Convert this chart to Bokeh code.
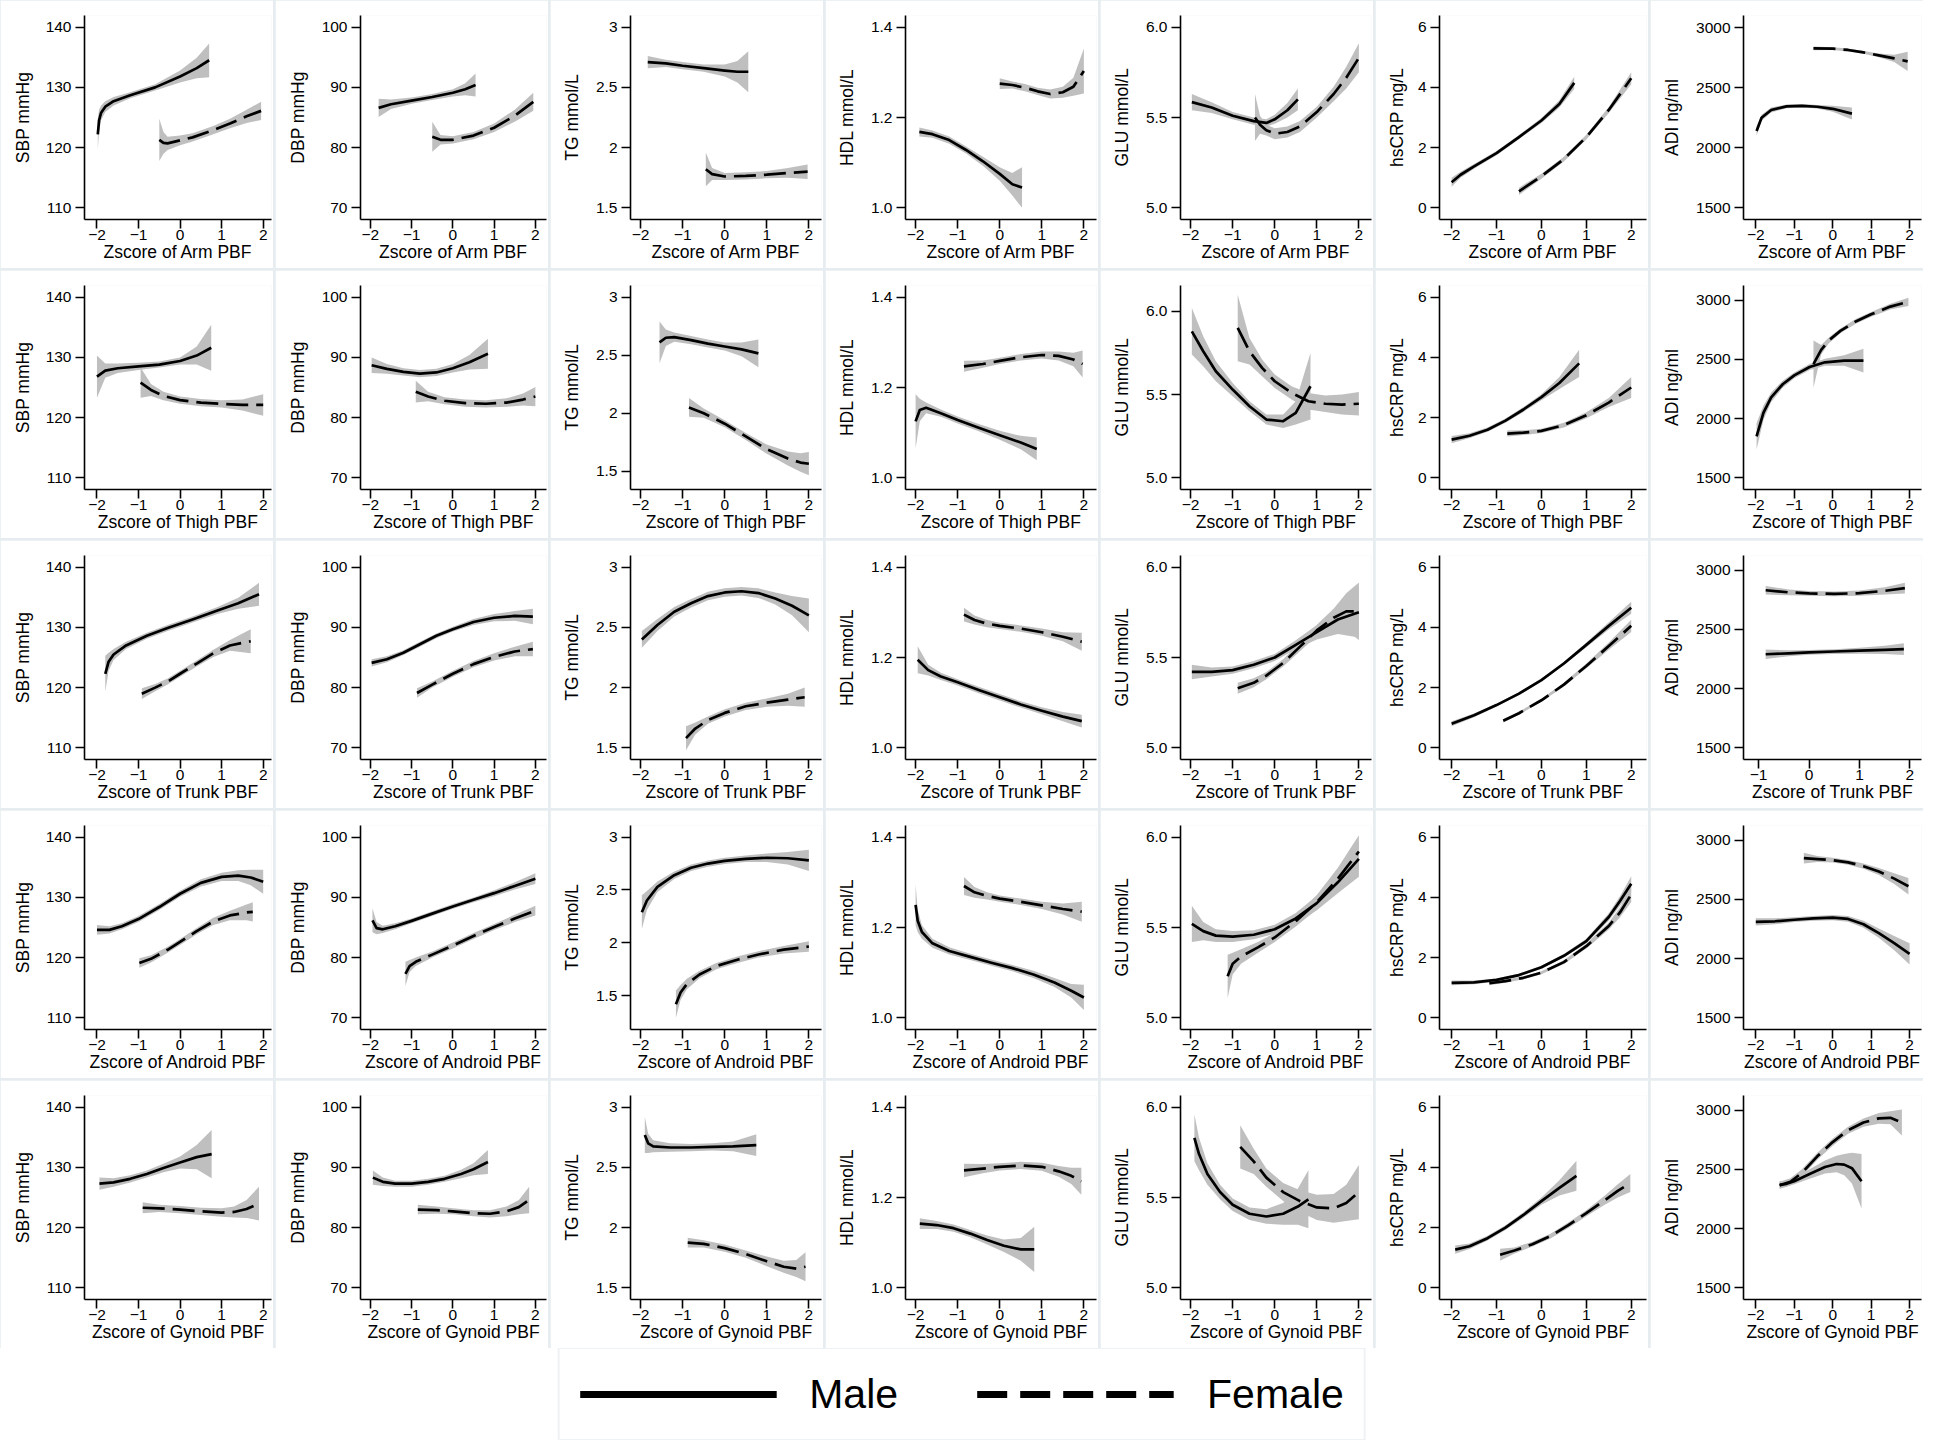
from bokeh.plotting import figure
from bokeh.models import Range1d, FixedTicker, CustomJSTickFormatter, Legend, LegendItem
from bokeh.layouts import gridplot, column
from bokeh.embed import file_html
from bokeh.resources import INLINE

FONT = "Liberation Sans"
BAND = "#bfbfbf"
BORDER = "#e6ecf0"

REGIONS = ["Arm", "Thigh", "Trunk", "Android", "Gynoid"]
MEASURES = ["SBP", "DBP", "TG", "HDL", "GLU", "CRP", "ADI"]
Y_LABELS = ["SBP mmHg", "DBP mmHg", "TG mmol/L", "HDL mmol/L", "GLU mmol/L", "hsCRP mg/L", "ADI ng/ml"]
Y_TICKS = [[110, 120, 130, 140], [70, 80, 90, 100], [1.5, 2, 2.5, 3], [1.0, 1.2, 1.4],
           [5.0, 5.5, 6.0], [0, 2, 4, 6], [1500, 2000, 2500, 3000]]
Y_DECIMALS = [0, 0, -1, 1, 1, 0, 0]
X_TICKS = [-2, -1, 0, 1, 2]
X_TICKS_TRUNK_ADI = [-1, 0, 1, 2]
LEGEND_LABELS = ["Male", "Female"]

# ---- curves: (x, fitted value, half width of 95% CI) ----
# Arm
ARM_SBP_M = ([-1.98, -1.95, -1.9, -1.8, -1.6, -1.2, -0.6, 0, 0.4, 0.7],
             [122.2, 124.5, 125.8, 126.8, 127.7, 128.7, 130.0, 131.8, 133.2, 134.5],
             [2.6, 1.8, 1.2, 0.9, 0.7, 0.5, 0.5, 1.0, 1.7, 2.8])
ARM_SBP_F = ([-0.5, -0.4, -0.3, 0, 0.3, 0.8, 1.2, 1.6, 1.95],
             [121.3, 120.8, 120.7, 121.2, 121.7, 122.9, 124.0, 125.2, 126.1],
             [3.5, 1.8, 1.1, 0.8, 0.7, 0.7, 0.8, 1.1, 1.5])
ARM_DBP_M = ([-1.8, -1.5, -1.0, -0.5, 0, 0.3, 0.55],
             [86.6, 87.2, 87.8, 88.4, 89.1, 89.7, 90.4],
             [1.5, 0.8, 0.5, 0.5, 0.6, 1.0, 1.9])
ARM_DBP_F = ([-0.5, -0.3, 0, 0.5, 1.0, 1.5, 1.95],
             [81.8, 81.3, 81.3, 82.0, 83.3, 85.3, 87.6],
             [2.5, 0.8, 0.6, 0.6, 0.7, 1.0, 1.5])
ARM_TG_M = ([-1.83, -1.4, -1.0, -0.5, 0, 0.3, 0.56],
            [2.71, 2.70, 2.68, 2.66, 2.64, 2.63, 2.63],
            [0.05, 0.03, 0.03, 0.03, 0.05, 0.09, 0.17])
ARM_TG_F = ([-0.45, -0.3, 0, 0.5, 1.0, 1.5, 1.97],
            [1.82, 1.78, 1.76, 1.765, 1.775, 1.79, 1.80],
            [0.14, 0.05, 0.03, 0.03, 0.03, 0.04, 0.06])
ARM_HDL_M = ([-1.91, -1.6, -1.2, -0.8, -0.4, 0, 0.3, 0.53],
             [1.168, 1.163, 1.150, 1.128, 1.103, 1.075, 1.052, 1.045],
             [0.01, 0.008, 0.008, 0.008, 0.01, 0.015, 0.025, 0.045])
ARM_HDL_F = ([0.0, 0.3, 0.6, 0.9, 1.2, 1.5, 1.75, 2.0],
             [1.275, 1.272, 1.266, 1.258, 1.252, 1.256, 1.268, 1.303],
             [0.012, 0.008, 0.008, 0.008, 0.01, 0.012, 0.02, 0.05])
ARM_GLU_M = ([-1.97, -1.5, -1.0, -0.5, -0.2, 0, 0.3, 0.55],
             [5.585, 5.555, 5.51, 5.48, 5.47, 5.49, 5.54, 5.60],
             [0.045, 0.03, 0.02, 0.02, 0.02, 0.025, 0.04, 0.06])
ARM_GLU_F = ([-0.47, -0.35, -0.2, 0, 0.3, 0.6, 1.0, 1.4, 1.7, 2.0],
             [5.50, 5.46, 5.43, 5.41, 5.42, 5.45, 5.53, 5.63, 5.72, 5.83],
             [0.13, 0.05, 0.03, 0.03, 0.03, 0.03, 0.03, 0.04, 0.06, 0.08])
ARM_CRP_M = ([-2.0, -1.8, -1.5, -1.0, -0.5, 0, 0.4, 0.73],
             [0.85, 1.1, 1.38, 1.82, 2.35, 2.9, 3.45, 4.15],
             [0.15, 0.1, 0.08, 0.07, 0.07, 0.08, 0.12, 0.2])
ARM_CRP_F = ([-0.5, 0, 0.5, 1.0, 1.5, 2.0],
             [0.55, 1.05, 1.62, 2.35, 3.25, 4.3],
             [0.12, 0.08, 0.08, 0.08, 0.1, 0.2])
ARM_ADI_M = ([-1.98, -1.85, -1.6, -1.2, -0.8, -0.4, 0, 0.5],
             [2140, 2250, 2315, 2345, 2350, 2342, 2325, 2285],
             [40, 25, 20, 15, 15, 15, 25, 50])
ARM_ADI_F = ([-0.5, 0, 0.4, 0.8, 1.2, 1.6, 1.95],
             [2828, 2826, 2815, 2795, 2770, 2745, 2720],
             [15, 12, 12, 12, 15, 30, 80])

# Thigh
THIGH_SBP_M = ([-2.0, -1.8, -1.5, -1.0, -0.5, 0, 0.4, 0.75],
               [126.8, 127.8, 128.2, 128.5, 128.8, 129.4, 130.3, 131.6],
               [3.5, 1.2, 0.8, 0.6, 0.5, 0.6, 1.5, 3.8])
THIGH_SBP_F = ([-0.95, -0.7, -0.4, 0, 0.5, 1.0, 1.5, 2.0],
               [125.8, 124.6, 123.6, 122.9, 122.5, 122.3, 122.1, 122.1],
               [2.5, 1.0, 0.7, 0.6, 0.6, 0.6, 0.9, 1.8])
THIGH_DBP_M = ([-1.97, -1.6, -1.2, -0.8, -0.4, 0, 0.4, 0.85],
               [88.7, 88.1, 87.6, 87.3, 87.5, 88.2, 89.2, 90.6],
               [1.3, 0.8, 0.6, 0.6, 0.6, 0.7, 1.2, 2.5])
THIGH_DBP_F = ([-0.9, -0.6, -0.2, 0.3, 0.8, 1.3, 1.7, 2.0],
               [84.3, 83.5, 82.8, 82.4, 82.3, 82.5, 83.0, 83.5],
               [1.8, 0.8, 0.6, 0.6, 0.6, 0.7, 1.0, 1.6])
THIGH_TG_M = ([-1.55, -1.4, -1.2, -0.8, -0.4, 0, 0.4, 0.8],
              [2.61, 2.65, 2.655, 2.63, 2.60, 2.575, 2.55, 2.515],
              [0.18, 0.07, 0.04, 0.035, 0.035, 0.035, 0.06, 0.12])
THIGH_TG_F = ([-0.85, -0.5, 0, 0.5, 1.0, 1.5, 1.8, 2.0],
              [2.05, 2.00, 1.91, 1.80, 1.69, 1.61, 1.575, 1.565],
              [0.08, 0.04, 0.03, 0.03, 0.04, 0.06, 0.08, 0.1])
THIGH_HDL_M = ([-2.0, -1.9, -1.75, -1.4, -1.0, -0.5, 0, 0.5, 0.88],
               [1.125, 1.150, 1.155, 1.143, 1.128, 1.111, 1.094, 1.078, 1.064],
               [0.06, 0.025, 0.012, 0.008, 0.008, 0.008, 0.01, 0.015, 0.025])
THIGH_HDL_F = ([-0.85, -0.4, 0, 0.5, 1.0, 1.4, 1.75, 1.97],
               [1.247, 1.252, 1.259, 1.267, 1.272, 1.270, 1.262, 1.252],
               [0.012, 0.008, 0.007, 0.007, 0.008, 0.01, 0.015, 0.03])
THIGH_GLU_M = ([-1.97, -1.7, -1.4, -1.0, -0.6, -0.2, 0.2, 0.5, 0.85],
               [5.88, 5.76, 5.64, 5.53, 5.43, 5.35, 5.34, 5.39, 5.55],
               [0.14, 0.09, 0.06, 0.04, 0.03, 0.03, 0.04, 0.07, 0.2])
THIGH_GLU_F = ([-0.88, -0.6, -0.3, 0, 0.4, 0.8, 1.2, 1.6, 2.0],
               [5.90, 5.76, 5.66, 5.58, 5.51, 5.46, 5.445, 5.44, 5.445],
               [0.2, 0.08, 0.05, 0.04, 0.04, 0.05, 0.05, 0.06, 0.07])
THIGH_CRP_M = ([-2.0, -1.6, -1.2, -0.8, -0.4, 0, 0.4, 0.84],
               [1.27, 1.40, 1.60, 1.90, 2.27, 2.68, 3.15, 3.80],
               [0.12, 0.08, 0.07, 0.07, 0.08, 0.1, 0.2, 0.45])
THIGH_CRP_F = ([-0.76, -0.4, 0, 0.5, 1.0, 1.5, 2.0],
               [1.47, 1.50, 1.56, 1.75, 2.08, 2.50, 3.0],
               [0.1, 0.08, 0.07, 0.08, 0.1, 0.15, 0.35])
THIGH_ADI_M = ([-1.98, -1.8, -1.6, -1.3, -1.0, -0.6, -0.2, 0.3, 0.8],
               [1850, 2050, 2180, 2290, 2365, 2435, 2475, 2490, 2490],
               [110, 60, 40, 30, 25, 25, 30, 45, 100])
THIGH_ADI_F = ([-0.5, -0.3, -0.1, 0.2, 0.6, 1.0, 1.5, 1.97],
               [2460, 2580, 2660, 2740, 2820, 2880, 2945, 2985],
               [200, 40, 25, 20, 20, 20, 25, 35])

# Trunk
TRUNK_SBP_M = ([-1.8, -1.72, -1.6, -1.3, -0.8, -0.3, 0.3, 0.9, 1.4, 1.9],
               [122.3, 124.3, 125.5, 127.0, 128.6, 129.9, 131.3, 132.8, 134.0, 135.5],
               [3.0, 1.5, 0.9, 0.6, 0.5, 0.5, 0.5, 0.6, 0.9, 1.9])
TRUNK_SBP_F = ([-0.92, -0.6, -0.3, 0, 0.4, 0.8, 1.2, 1.7],
               [119.0, 120.0, 121.0, 122.3, 124.0, 125.7, 127.0, 127.7],
               [0.9, 0.6, 0.5, 0.5, 0.5, 0.6, 0.9, 2.0])
TRUNK_DBP_M = ([-1.97, -1.6, -1.2, -0.8, -0.4, 0, 0.5, 1.0, 1.5, 1.94],
               [84.1, 84.7, 85.8, 87.2, 88.6, 89.7, 90.9, 91.6, 91.9, 91.8],
               [0.6, 0.5, 0.4, 0.4, 0.4, 0.4, 0.5, 0.6, 0.8, 1.3])
TRUNK_DBP_F = ([-0.87, -0.5, 0, 0.5, 1.0, 1.5, 1.94],
               [79.1, 80.5, 82.3, 83.9, 85.1, 86.0, 86.4],
               [0.8, 0.5, 0.5, 0.5, 0.6, 0.8, 1.2])
TRUNK_TG_M = ([-1.97, -1.6, -1.2, -0.8, -0.4, 0, 0.4, 0.8, 1.2, 1.6, 2.0],
              [2.40, 2.52, 2.63, 2.70, 2.76, 2.79, 2.80, 2.785, 2.74, 2.68, 2.60],
              [0.07, 0.05, 0.04, 0.035, 0.035, 0.035, 0.035, 0.04, 0.05, 0.08, 0.14])
TRUNK_TG_F = ([-0.92, -0.7, -0.4, 0, 0.5, 1.0, 1.5, 1.9],
              [1.58, 1.66, 1.73, 1.79, 1.845, 1.875, 1.90, 1.92],
              [0.1, 0.05, 0.03, 0.03, 0.03, 0.035, 0.05, 0.08])
TRUNK_HDL_M = ([-1.95, -1.7, -1.4, -1.0, -0.5, 0, 0.5, 1.0, 1.5, 1.95],
               [1.195, 1.172, 1.158, 1.145, 1.128, 1.112, 1.096, 1.082, 1.069, 1.059],
               [0.03, 0.012, 0.008, 0.007, 0.007, 0.007, 0.007, 0.008, 0.01, 0.014])
TRUNK_HDL_F = ([-0.85, -0.6, -0.3, 0, 0.5, 1.0, 1.5, 1.95],
               [1.295, 1.283, 1.275, 1.270, 1.264, 1.256, 1.246, 1.235],
               [0.015, 0.01, 0.008, 0.007, 0.007, 0.008, 0.01, 0.02])
TRUNK_GLU_M = ([-1.97, -1.5, -1.0, -0.5, 0, 0.5, 1.0, 1.5, 2.0],
               [5.42, 5.42, 5.43, 5.46, 5.50, 5.57, 5.64, 5.71, 5.75],
               [0.04, 0.025, 0.02, 0.02, 0.02, 0.025, 0.04, 0.08, 0.14])
TRUNK_GLU_F = ([-0.88, -0.5, -0.2, 0.2, 0.6, 1.0, 1.4, 1.7, 2.0],
               [5.33, 5.36, 5.40, 5.47, 5.56, 5.65, 5.72, 5.755, 5.755],
               [0.03, 0.025, 0.02, 0.02, 0.025, 0.03, 0.05, 0.1, 0.16])
TRUNK_CRP_M = ([-2.0, -1.5, -1.0, -0.5, 0, 0.5, 1.0, 1.5, 2.0],
               [0.80, 1.08, 1.42, 1.80, 2.25, 2.80, 3.42, 4.05, 4.65],
               [0.08, 0.06, 0.05, 0.05, 0.05, 0.06, 0.08, 0.12, 0.2])
TRUNK_CRP_F = ([-0.85, -0.5, 0, 0.5, 1.0, 1.5, 2.0],
               [0.90, 1.15, 1.58, 2.10, 2.72, 3.38, 4.05],
               [0.06, 0.05, 0.05, 0.06, 0.08, 0.12, 0.2])
TRUNK_ADI_M = ([-0.86, -0.4, 0, 0.5, 1.0, 1.5, 1.88],
               [2290, 2298, 2305, 2313, 2320, 2327, 2333],
               [40, 25, 20, 20, 25, 35, 50])
TRUNK_ADI_F = ([-0.86, -0.4, 0, 0.5, 1.0, 1.5, 1.9],
               [2830, 2812, 2803, 2800, 2805, 2825, 2848],
               [35, 25, 20, 20, 22, 30, 45])

# Android
ANDROID_SBP_M = ([-2.0, -1.7, -1.4, -1.0, -0.5, 0, 0.5, 1.0, 1.4, 1.7, 2.0],
                 [124.6, 124.6, 125.2, 126.4, 128.4, 130.6, 132.4, 133.4, 133.6, 133.3, 132.6],
                 [0.8, 0.6, 0.5, 0.5, 0.5, 0.5, 0.6, 0.7, 0.9, 1.3, 2.0])
ANDROID_SBP_F = ([-0.98, -0.7, -0.3, 0, 0.4, 0.8, 1.2, 1.6, 1.75],
                 [119.1, 119.8, 121.3, 122.6, 124.4, 126.0, 127.0, 127.5, 127.6],
                 [0.8, 0.6, 0.5, 0.5, 0.5, 0.6, 0.8, 1.3, 1.6])
ANDROID_DBP_M = ([-1.95, -1.85, -1.7, -1.4, -1.0, -0.5, 0, 0.5, 1.0, 1.5, 2.0],
                 [86.2, 84.9, 84.7, 85.2, 86.1, 87.3, 88.5, 89.6, 90.7, 91.9, 93.1],
                 [2.0, 1.0, 0.6, 0.5, 0.4, 0.4, 0.4, 0.4, 0.5, 0.6, 0.9])
ANDROID_DBP_F = ([-1.15, -1.05, -0.9, -0.5, 0, 0.5, 1.0, 1.5, 2.0],
                 [77.3, 78.6, 79.3, 80.5, 82.0, 83.6, 85.1, 86.5, 87.8],
                 [2.0, 1.0, 0.7, 0.5, 0.5, 0.5, 0.5, 0.6, 0.8])
ANDROID_TG_M = ([-1.97, -1.85, -1.6, -1.2, -0.8, -0.4, 0, 0.5, 1.0, 1.5, 2.0],
                [2.29, 2.40, 2.53, 2.64, 2.71, 2.75, 2.775, 2.795, 2.805, 2.80, 2.78],
                [0.16, 0.09, 0.05, 0.035, 0.03, 0.03, 0.03, 0.03, 0.04, 0.06, 0.1])
ANDROID_TG_F = ([-1.16, -1.05, -0.9, -0.6, -0.2, 0.3, 0.8, 1.4, 2.0],
                [1.42, 1.53, 1.61, 1.70, 1.78, 1.84, 1.89, 1.935, 1.965],
                [0.13, 0.07, 0.05, 0.035, 0.03, 0.03, 0.03, 0.035, 0.05])
ANDROID_HDL_M = ([-2.0, -1.95, -1.85, -1.6, -1.2, -0.7, -0.2, 0.3, 0.8, 1.3, 1.7, 2.0],
                 [1.25, 1.215, 1.19, 1.165, 1.148, 1.135, 1.122, 1.110, 1.096, 1.078, 1.060, 1.045],
                 [0.045, 0.025, 0.015, 0.01, 0.008, 0.007, 0.007, 0.007, 0.008, 0.01, 0.015, 0.028])
ANDROID_HDL_F = ([-0.85, -0.6, -0.3, 0, 0.5, 1.0, 1.5, 1.95],
                 [1.292, 1.278, 1.270, 1.264, 1.257, 1.249, 1.241, 1.235],
                 [0.02, 0.012, 0.008, 0.007, 0.007, 0.008, 0.012, 0.022])
ANDROID_GLU_M = ([-1.97, -1.7, -1.4, -1.0, -0.5, 0, 0.5, 1.0, 1.5, 2.0],
                 [5.52, 5.48, 5.455, 5.45, 5.46, 5.49, 5.55, 5.635, 5.75, 5.88],
                 [0.1, 0.05, 0.035, 0.03, 0.025, 0.025, 0.03, 0.04, 0.06, 0.1])
ANDROID_GLU_F = ([-1.12, -1.0, -0.8, -0.4, 0, 0.5, 1.0, 1.5, 2.0],
                 [5.23, 5.30, 5.34, 5.39, 5.445, 5.535, 5.64, 5.77, 5.92],
                 [0.12, 0.06, 0.04, 0.03, 0.025, 0.03, 0.04, 0.06, 0.09])
ANDROID_CRP_M = ([-2.0, -1.5, -1.0, -0.5, 0, 0.5, 1.0, 1.5, 1.75, 2.0],
                 [1.16, 1.18, 1.26, 1.42, 1.68, 2.06, 2.55, 3.35, 3.88, 4.45],
                 [0.08, 0.06, 0.05, 0.05, 0.05, 0.06, 0.08, 0.12, 0.16, 0.25])
ANDROID_CRP_F = ([-1.16, -0.8, -0.4, 0, 0.5, 1.0, 1.5, 1.75, 2.0],
                 [1.15, 1.22, 1.33, 1.50, 1.85, 2.38, 3.05, 3.50, 4.10],
                 [0.07, 0.05, 0.05, 0.05, 0.06, 0.08, 0.12, 0.16, 0.25])
ANDROID_ADI_M = ([-2.0, -1.5, -1.0, -0.5, 0, 0.4, 0.8, 1.2, 1.6, 2.0],
                 [2310, 2315, 2328, 2340, 2345, 2335, 2290, 2215, 2130, 2040],
                 [30, 25, 20, 20, 22, 25, 30, 40, 60, 90])
ANDROID_ADI_F = ([-0.75, -0.4, 0, 0.4, 0.8, 1.2, 1.6, 1.97],
                 [2848, 2840, 2830, 2812, 2780, 2735, 2675, 2610],
                 [45, 25, 20, 20, 22, 30, 45, 70])

# Gynoid
GYNOID_SBP_M = ([-1.94, -1.6, -1.2, -0.8, -0.4, 0, 0.4, 0.76],
                [127.3, 127.5, 128.1, 128.9, 129.9, 130.8, 131.7, 132.2],
                [1.0, 0.7, 0.6, 0.6, 0.7, 1.0, 2.0, 4.0])
GYNOID_SBP_F = ([-0.9, -0.5, 0, 0.5, 1.0, 1.3, 1.6, 1.9],
                [123.3, 123.2, 123.0, 122.7, 122.5, 122.6, 123.1, 124.0],
                [0.9, 0.6, 0.6, 0.6, 0.7, 0.9, 1.5, 2.8])
GYNOID_DBP_M = ([-1.94, -1.7, -1.4, -1.0, -0.6, -0.2, 0.2, 0.5, 0.85],
                [88.3, 87.6, 87.3, 87.3, 87.6, 88.1, 88.9, 89.7, 90.9],
                [1.2, 0.7, 0.5, 0.5, 0.5, 0.5, 0.7, 1.0, 2.0])
GYNOID_DBP_F = ([-0.85, -0.4, 0, 0.5, 0.9, 1.3, 1.6, 1.85],
                [83.0, 82.9, 82.7, 82.4, 82.3, 82.7, 83.4, 84.6],
                [0.8, 0.6, 0.5, 0.5, 0.6, 0.8, 1.2, 2.2])
GYNOID_TG_M = ([-1.9, -1.82, -1.7, -1.3, -0.8, -0.3, 0.2, 0.75],
               [2.77, 2.70, 2.675, 2.665, 2.665, 2.67, 2.675, 2.685],
               [0.15, 0.08, 0.05, 0.035, 0.03, 0.03, 0.04, 0.09])
GYNOID_TG_F = ([-0.88, -0.5, 0, 0.5, 1.0, 1.4, 1.7, 1.92],
               [1.875, 1.865, 1.83, 1.78, 1.72, 1.675, 1.66, 1.675],
               [0.04, 0.03, 0.03, 0.03, 0.04, 0.05, 0.07, 0.12])
GYNOID_HDL_M = ([-1.9, -1.5, -1.1, -0.7, -0.3, 0.1, 0.5, 0.82],
                [1.142, 1.139, 1.132, 1.120, 1.106, 1.093, 1.085, 1.085],
                [0.012, 0.009, 0.008, 0.008, 0.01, 0.014, 0.025, 0.05])
GYNOID_HDL_F = ([-0.85, -0.4, 0, 0.5, 1.0, 1.4, 1.7, 1.94],
                [1.260, 1.264, 1.268, 1.271, 1.268, 1.258, 1.248, 1.236],
                [0.015, 0.01, 0.008, 0.008, 0.009, 0.012, 0.018, 0.03])
GYNOID_GLU_M = ([-1.91, -1.8, -1.6, -1.3, -1.0, -0.6, -0.2, 0.2, 0.55, 0.8],
                [5.83, 5.74, 5.63, 5.53, 5.46, 5.41, 5.395, 5.41, 5.45, 5.49],
                [0.13, 0.09, 0.06, 0.04, 0.035, 0.035, 0.04, 0.06, 0.1, 0.16])
GYNOID_GLU_F = ([-0.82, -0.5, -0.2, 0.2, 0.6, 1.0, 1.4, 1.7, 2.0],
                [5.78, 5.70, 5.61, 5.53, 5.48, 5.445, 5.44, 5.47, 5.53],
                [0.12, 0.07, 0.05, 0.05, 0.06, 0.07, 0.08, 0.1, 0.15])
GYNOID_CRP_M = ([-1.92, -1.6, -1.2, -0.8, -0.4, 0, 0.4, 0.78],
                [1.27, 1.38, 1.65, 2.00, 2.42, 2.88, 3.32, 3.72],
                [0.14, 0.09, 0.08, 0.08, 0.09, 0.12, 0.25, 0.5])
GYNOID_CRP_F = ([-0.92, -0.6, -0.2, 0.2, 0.6, 1.0, 1.4, 1.7, 1.98],
                [1.10, 1.24, 1.45, 1.72, 2.08, 2.48, 2.90, 3.22, 3.48],
                [0.2, 0.1, 0.08, 0.08, 0.09, 0.1, 0.15, 0.22, 0.3])
GYNOID_ADI_M = ([-1.38, -1.2, -1.0, -0.6, -0.2, 0.1, 0.3, 0.5, 0.75],
                [2370, 2378, 2400, 2460, 2520, 2545, 2540, 2510, 2400],
                [30, 25, 25, 40, 55, 70, 90, 130, 230])
GYNOID_ADI_F = ([-1.38, -1.1, -0.8, -0.4, 0, 0.4, 0.8, 1.2, 1.5, 1.8],
                [2365, 2395, 2470, 2610, 2730, 2830, 2895, 2930, 2935, 2895],
                [30, 30, 30, 30, 30, 30, 35, 45, 55, 110])

_g = globals()
CURVES = {(reg, m): (_g[f"{reg.upper()}_{m}_M"], _g[f"{reg.upper()}_{m}_F"])
          for reg in REGIONS for m in MEASURES}

# ---- panel geometry ----
PW, PH = 273, 268
LEFT = [84, 85, 80, 80, 80, 64, 93]
YLAB_STANDOFF = [10, 11, 11, 11, 11, 8, 11]
X_RANGES = [(-2.3, 2.2), (-2.24, 2.27), (-2.24, 2.3), (-2.24, 2.3), (-2.24, 2.3), (-2.27, 2.34), (-2.32, 2.31)]
Y_RANGES = [(108.07, 141.93), (68.07, 101.93), (1.403, 3.097), (0.974, 1.426),
            (4.936, 6.064), (-0.386, 6.386), (1403, 3102)]
Y_OVERRIDE = {("Thigh", "TG"): (1.343, 3.10), ("Android", "TG"): (1.18, 3.11),
              ("Thigh", "GLU"): (4.93, 6.155)}
for reg in REGIONS[1:]:
    Y_OVERRIDE[(reg, "ADI")] = (1402, 3123)
X_OVERRIDE = {("Trunk", "ADI"): (-1.3, 2.23)}


def fmt(decimals):
    return CustomJSTickFormatter(args=dict(d=decimals), code="""
        const a = Math.abs(tick);
        const s = d >= 0 ? a.toFixed(d) : String(Math.round(a * 1000) / 1000);
        return (tick < -1e-9 ? "\\u2212" : "") + s;
    """)


def style_axis(ax):
    ax.axis_line_width = 1.6
    ax.axis_line_color = "black"
    ax.major_tick_line_width = 1.6
    ax.major_tick_line_color = "black"
    ax.major_tick_out = 9
    ax.major_tick_in = 0
    ax.minor_tick_out = 0
    ax.minor_tick_in = 0
    ax.major_label_text_font = FONT
    ax.major_label_text_font_size = "15.5px"
    ax.major_label_text_color = "black"
    ax.axis_label_text_font = FONT
    ax.axis_label_text_font_size = "17.5px"
    ax.axis_label_text_font_style = "normal"
    ax.axis_label_text_color = "black"


rows = []
for reg in REGIONS:
    row = []
    for c, m in enumerate(MEASURES):
        key = (reg, m)
        xr = X_OVERRIDE.get(key, X_RANGES[c])
        yr = Y_OVERRIDE.get(key, Y_RANGES[c])
        p = figure(width=PW, height=PH, x_range=Range1d(*xr), y_range=Range1d(*yr),
                   output_backend="svg", toolbar_location=None,
                   min_border_left=LEFT[c], min_border_right=2,
                   min_border_top=15, min_border_bottom=49)
        p.xgrid.visible = False
        p.ygrid.visible = False
        p.outline_line_color = None
        p.background_fill_color = "white"
        p.border_fill_color = "white"

        male, female = CURVES[key]
        for (x, y, ci) in (male, female):
            p.varea(x=x, y1=[v - h for v, h in zip(y, ci)], y2=[v + h for v, h in zip(y, ci)],
                    fill_color=BAND, fill_alpha=1.0)
        p.line(male[0], male[1], line_color="black", line_width=2.7, line_join="round")
        p.line(female[0], female[1], line_color="black", line_width=2.7, line_dash="22 8",
               line_join="round")

        xa, ya = p.xaxis[0], p.yaxis[0]
        style_axis(xa)
        style_axis(ya)
        xa.ticker = FixedTicker(ticks=X_TICKS_TRUNK_ADI if key == ("Trunk", "ADI") else X_TICKS,
                                minor_ticks=[])
        xa.formatter = fmt(-1)
        xa.axis_label = f"Zscore of {reg} PBF"
        xa.major_label_standoff = 1
        xa.axis_label_standoff = -1
        ya.ticker = FixedTicker(ticks=Y_TICKS[c], minor_ticks=[])
        ya.formatter = fmt(Y_DECIMALS[c])
        ya.axis_label = Y_LABELS[c]
        ya.major_label_standoff = 4
        ya.axis_label_standoff = YLAB_STANDOFF[c]
        row.append(p)
    rows.append(row)

grid = gridplot(rows, toolbar_location=None)
grid.spacing = 2
grid.styles = {"background-color": BORDER}

# ---- legend (key samples sit outside the legend panel's visible range) ----
GRID_W = 7 * PW + 6 * 2
lf = figure(width=GRID_W, height=92, output_backend="svg", toolbar_location=None,
            x_axis_type=None, y_axis_type=None, x_range=Range1d(0, 1), y_range=Range1d(0, 1),
            min_border=0, min_border_left=0, min_border_right=0, min_border_top=0, min_border_bottom=0)
lf.outline_line_color = None
lf.background_fill_color = "white"
lf.border_fill_color = "white"
KEY_X = [5, 6]
KEY_Y = [5, 5]
r_m = lf.line(x=KEY_X, y=KEY_Y, line_color="black", line_width=7)
r_f = lf.line(x=KEY_X, y=KEY_Y, line_color="black", line_width=7, line_dash="30 13")
legend = Legend(items=[LegendItem(label=LEGEND_LABELS[0], renderers=[r_m]),
                       LegendItem(label=LEGEND_LABELS[1], renderers=[r_f])],
                orientation="horizontal", location="center",
                padding=20, spacing=79, margin=0,
                glyph_width=197, glyph_height=50, label_height=50, label_standoff=33,
                label_text_font=FONT, label_text_font_size="41px", label_text_color="black",
                border_line_color="#e0e6ea", border_line_width=2,
                background_fill_color="white", background_fill_alpha=1.0)
lf.add_layout(legend, "center")

layout = column(grid, lf)
open("out.html", "w").write(file_html(layout, INLINE))
